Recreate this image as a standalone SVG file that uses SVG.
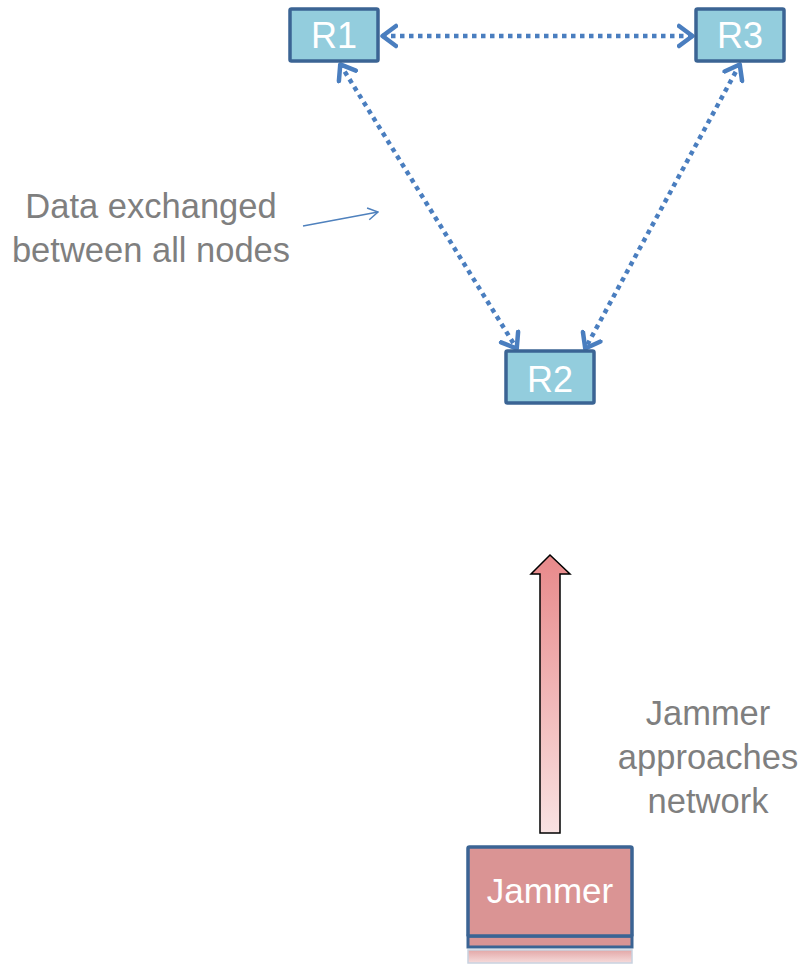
<svg xmlns="http://www.w3.org/2000/svg" width="801" height="965" viewBox="0 0 801 965">
<style>
.node{fill:#93cddd;stroke:#3b6494;stroke-width:3.5}
.ntext{font-family:"Liberation Sans",Arial,sans-serif;font-size:36px;fill:#ffffff;text-anchor:middle}
.label{font-family:"Liberation Sans",Arial,sans-serif;font-size:34.5px;fill:#7f7f7f;text-anchor:middle}
.dot{fill:none;stroke:#4a7ebf;stroke-width:4.5;stroke-dasharray:4.5 4.5}
</style>
<defs>
<marker id="chev" markerUnits="userSpaceOnUse" viewBox="0 0 18 26" refX="16" refY="13" markerWidth="18" markerHeight="26" orient="auto-start-reverse">
<path d="M2,3 L15.5,13 L2,23" fill="none" stroke="#4a7ebf" stroke-width="4.5" stroke-dasharray="none" stroke-linecap="round" stroke-linejoin="round"/>
</marker>
<marker id="small" markerUnits="userSpaceOnUse" viewBox="0 0 12 14" refX="11" refY="7" markerWidth="12" markerHeight="14" orient="auto">
<path d="M1,1 L11,7 L1,13" fill="none" stroke="#4f81bd" stroke-width="1.5"/>
</marker>
<linearGradient id="arrowGrad" x1="0" y1="0" x2="0" y2="1">
<stop offset="0" stop-color="#e8898a"/>
<stop offset="1" stop-color="#f9e2e2"/>
</linearGradient>
<linearGradient id="refl" x1="0" y1="0" x2="0" y2="1">
<stop offset="0" stop-color="#e3a7a7"/>
<stop offset="1" stop-color="#f6dcdc"/>
</linearGradient>
</defs>
<g id="connectors">
<path class="dot" d="M382,36 L693,36" marker-start="url(#chev)" marker-end="url(#chev)"/>
<path class="dot" d="M340,64 L517,349" marker-start="url(#chev)" marker-end="url(#chev)"/>
<path class="dot" d="M740,64 L585,349" marker-start="url(#chev)" marker-end="url(#chev)"/>
<path d="M303,226 L378,212" fill="none" stroke="#4f81bd" stroke-width="1.5" marker-end="url(#small)"/>
<path id="jam-arrow" d="M550,555 L570,574 L560,574 L560,833 L540,833 L540,574 L531,574 Z" fill="url(#arrowGrad)" stroke="#000000" stroke-width="1.5" stroke-linejoin="miter"/>
</g>
<g id="R1">
<rect class="node" x="290" y="9" width="88" height="52" rx="1.5"/>
<text class="ntext" x="334" y="48">R1</text>
</g>
<g id="R3">
<rect class="node" x="696" y="9" width="88" height="52" rx="1.5"/>
<text class="ntext" x="740" y="48">R3</text>
</g>
<g id="R2">
<rect class="node" x="506" y="351" width="88" height="52" rx="1.5"/>
<text class="ntext" x="550" y="392">R2</text>
</g>
<g id="Jammer">
<rect x="468" y="950" width="164" height="13" fill="url(#refl)" stroke="#c8d2e0" stroke-width="1.5"/>
<rect x="468" y="936" width="164" height="11" fill="#da9494" stroke="#3b6494" stroke-width="3"/>
<rect x="468" y="847" width="164" height="89" fill="#da9494" stroke="#3b6494" stroke-width="3.5" rx="1.5"/>
<text class="ntext" x="550" y="903" style="font-size:35px">Jammer</text>
</g>
<g id="labels">
<text class="label" x="151" y="218">Data exchanged</text>
<text class="label" x="151" y="262">between all nodes</text>
<text class="label" x="708" y="725">Jammer</text>
<text class="label" x="708" y="769">approaches</text>
<text class="label" x="708" y="813">network</text>
</g>
</svg>
